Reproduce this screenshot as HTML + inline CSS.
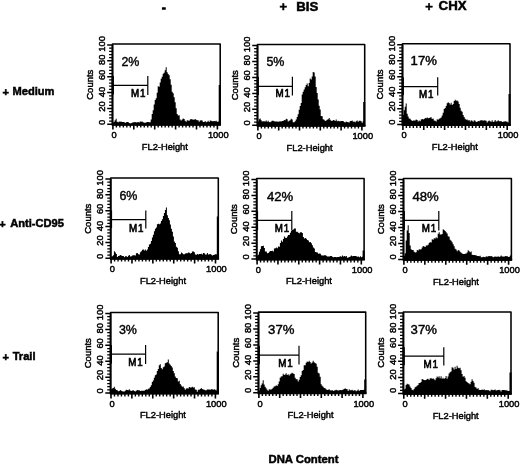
<!DOCTYPE html>
<html><head><meta charset="utf-8"><title>DNA Content</title>
<style>html,body{margin:0;padding:0;background:#fff}svg{display:block}</style>
</head><body>
<svg width="520" height="464" viewBox="0 0 520 464">
<rect width="520" height="464" fill="#fff"/>
<polygon fill="#000" points="112.50,124.70 112.70,122.59 113.70,122.59 113.70,121.71 114.70,121.71 114.70,120.18 115.70,120.18 115.70,118.79 116.70,118.79 116.70,121.83 117.70,121.83 117.70,122.27 118.70,122.27 118.70,121.59 119.70,121.59 119.70,121.85 120.70,121.85 120.70,121.60 121.70,121.60 121.70,121.92 122.70,121.92 122.70,121.95 123.70,121.95 123.70,122.08 124.70,122.08 124.70,123.12 125.70,123.12 125.70,122.13 126.70,122.13 126.70,121.97 127.70,121.97 127.70,121.91 128.70,121.91 128.70,123.08 129.70,123.08 129.70,123.51 130.70,123.51 130.70,123.20 131.70,123.20 131.70,122.87 132.70,122.87 132.70,122.33 133.70,122.33 133.70,122.34 134.70,122.34 134.70,122.03 135.70,122.03 135.70,122.55 136.70,122.55 136.70,122.22 137.70,122.22 137.70,122.06 138.70,122.06 138.70,122.57 139.70,122.57 139.70,121.47 140.70,121.47 140.70,121.71 141.70,121.71 141.70,121.45 142.70,121.45 142.70,122.34 143.70,122.34 143.70,122.71 144.70,122.71 144.70,122.63 145.70,122.63 145.70,122.47 146.70,122.47 146.70,122.02 147.70,122.02 147.70,122.07 148.70,122.07 148.70,122.21 149.70,122.21 149.70,122.29 150.70,122.29 150.70,119.50 151.70,119.50 151.70,114.11 152.70,114.11 152.70,110.19 153.70,110.19 153.70,104.50 154.70,104.50 154.70,100.04 155.70,100.04 155.70,98.36 156.70,98.36 156.70,92.83 157.70,92.83 157.70,86.24 158.70,86.24 158.70,86.85 159.70,86.85 159.70,82.47 160.70,82.47 160.70,78.75 161.70,78.75 161.70,76.85 162.70,76.85 162.70,73.67 163.70,73.67 163.70,72.64 164.70,72.64 164.70,70.26 165.70,70.26 165.70,67.28 166.70,67.28 166.70,72.18 167.70,72.18 167.70,73.89 168.70,73.89 168.70,75.29 169.70,75.29 169.70,79.33 170.70,79.33 170.70,84.85 171.70,84.85 171.70,91.83 172.70,91.83 172.70,93.21 173.70,93.21 173.70,97.30 174.70,97.30 174.70,102.29 175.70,102.29 175.70,108.25 176.70,108.25 176.70,113.95 177.70,113.95 177.70,115.39 178.70,115.39 178.70,115.13 179.70,115.13 179.70,119.47 180.70,119.47 180.70,120.48 181.70,120.48 181.70,119.55 182.70,119.55 182.70,118.53 183.70,118.53 183.70,118.93 184.70,118.93 184.70,120.79 185.70,120.79 185.70,121.85 186.70,121.85 186.70,120.25 187.70,120.25 187.70,120.45 188.70,120.45 188.70,120.79 189.70,120.79 189.70,119.48 190.70,119.48 190.70,118.95 191.70,118.95 191.70,119.42 192.70,119.42 192.70,119.53 193.70,119.53 193.70,119.63 194.70,119.63 194.70,119.10 195.70,119.10 195.70,119.74 196.70,119.74 196.70,120.21 197.70,120.21 197.70,120.37 198.70,120.37 198.70,121.75 199.70,121.75 199.70,120.48 200.70,120.48 200.70,120.26 201.70,120.26 201.70,120.47 202.70,120.47 202.70,122.12 203.70,122.12 203.70,121.89 204.70,121.89 204.70,120.92 205.70,120.92 205.70,122.23 206.70,122.23 206.70,121.72 207.70,121.72 207.70,120.83 208.70,120.83 208.70,121.95 209.70,121.95 209.70,120.60 210.70,120.60 210.70,120.78 211.70,120.78 211.70,121.28 212.70,121.28 212.70,121.19 213.70,121.19 213.70,120.99 214.70,120.99 214.70,121.25 215.70,121.25 215.70,120.75 216.70,120.75 216.70,121.66 217.70,121.66 217.70,121.85 218.70,121.85 218.70,121.08 219.70,121.08 219.70,121.41 220.20,121.41 220.20,124.70"/>
<rect x="218.70" y="85.00" width="2" height="39.70" fill="#000"/>
<rect x="112.5" y="44.0" width="107.70" height="80.70" fill="none" stroke="#000" stroke-width="1.55" stroke-linejoin="round"/>
<path d="M112.5 45.0V124.7" fill="none" stroke="#000" stroke-width="1.8"/>
<path d="M111.70 124.7H221.00" fill="none" stroke="#000" stroke-width="1.9"/>
<path d="M109.10 121.13H112.5M109.10 117.96H112.5M109.10 114.78H112.5M109.10 111.61H112.5M109.10 105.27H112.5M109.10 102.10H112.5M109.10 98.92H112.5M109.10 95.75H112.5M109.10 89.41H112.5M109.10 86.24H112.5M109.10 83.06H112.5M109.10 79.89H112.5M109.10 73.55H112.5M109.10 70.38H112.5M109.10 67.20H112.5M109.10 64.03H112.5M109.10 57.69H112.5M109.10 54.52H112.5M109.10 51.34H112.5M109.10 48.17H112.5" stroke="#000" stroke-width="1.25" fill="none"/>
<path d="M107.20 124.30H112.5M107.20 108.44H112.5M107.20 92.58H112.5M107.20 76.72H112.5M107.20 60.86H112.5M107.20 45.00H112.5" stroke="#000" stroke-width="1.5" fill="none"/>
<path d="M116.38 124.7V127.60M119.87 124.7V127.60M123.35 124.7V127.60M126.83 124.7V127.60M130.32 124.7V127.60M137.28 124.7V127.60M140.77 124.7V127.60M144.25 124.7V127.60M147.73 124.7V127.60M151.22 124.7V127.60M158.18 124.7V127.60M161.67 124.7V127.60M165.15 124.7V127.60M168.63 124.7V127.60M172.12 124.7V127.60M179.08 124.7V127.60M182.57 124.7V127.60M186.05 124.7V127.60M189.53 124.7V127.60M193.02 124.7V127.60M199.98 124.7V127.60M203.47 124.7V127.60M206.95 124.7V127.60M210.43 124.7V127.60M213.92 124.7V127.60" stroke="#000" stroke-width="1.4" fill="none"/>
<path d="M112.90 124.7V129.60M133.80 124.7V129.60M154.70 124.7V129.60M175.60 124.7V129.60M196.50 124.7V129.60M217.40 124.7V129.60" stroke="#000" stroke-width="1.6" fill="none"/>
<text transform="translate(105.20 122.40) rotate(-90)" text-anchor="middle" font-size="9.4" font-family="Liberation Sans, Arial, Helvetica, sans-serif" stroke="#000" stroke-width="0.45">0</text>
<text transform="translate(105.20 106.60) rotate(-90)" text-anchor="middle" font-size="9.4" font-family="Liberation Sans, Arial, Helvetica, sans-serif" stroke="#000" stroke-width="0.45">20</text>
<text transform="translate(105.20 92.00) rotate(-90)" text-anchor="middle" font-size="9.4" font-family="Liberation Sans, Arial, Helvetica, sans-serif" stroke="#000" stroke-width="0.45">40</text>
<text transform="translate(105.20 74.90) rotate(-90)" text-anchor="middle" font-size="9.4" font-family="Liberation Sans, Arial, Helvetica, sans-serif" stroke="#000" stroke-width="0.45">60</text>
<text transform="translate(105.20 59.80) rotate(-90)" text-anchor="middle" font-size="9.4" font-family="Liberation Sans, Arial, Helvetica, sans-serif" stroke="#000" stroke-width="0.45">80</text>
<text transform="translate(105.20 43.80) rotate(-90)" text-anchor="middle" font-size="9.4" font-family="Liberation Sans, Arial, Helvetica, sans-serif" stroke="#000" stroke-width="0.45">100</text>
<text transform="translate(92.80 84.70) rotate(-90)" text-anchor="middle" font-size="9.5" font-family="Liberation Sans, Arial, Helvetica, sans-serif" stroke="#000" stroke-width="0.45">Counts</text>
<text x="114.10" y="138.00" text-anchor="middle" font-size="9.3" font-family="Liberation Sans, Arial, Helvetica, sans-serif" stroke="#000" stroke-width="0.45">0</text>
<text x="218.30" y="138.00" text-anchor="middle" font-size="9.3" font-family="Liberation Sans, Arial, Helvetica, sans-serif" stroke="#000" stroke-width="0.45">1000</text>
<text x="164.85" y="149.50" text-anchor="middle" font-size="9.3" font-family="Liberation Sans, Arial, Helvetica, sans-serif" stroke="#000" stroke-width="0.45">FL2-Height</text>
<path d="M112.5 85.3H147.8M147.8 76V95.0" stroke="#000" stroke-width="1.2" fill="none"/>
<path d="M112.8 76V94.6" stroke="#000" stroke-width="2.2" fill="none"/>
<text transform="translate(131.10 96.90) scale(1 1.04)" font-size="9.8" letter-spacing="0.7" font-family="Liberation Sans, Arial, Helvetica, sans-serif" stroke="#000" stroke-width="0.6">M1</text>
<text x="121.40" y="65.5" font-size="12.2" textLength="18.0" lengthAdjust="spacingAndGlyphs" font-family="Liberation Sans, Arial, Helvetica, sans-serif" stroke="#000" stroke-width="0.4">2%</text>
<polygon fill="#000" points="257.50,125.70 257.70,121.58 258.70,121.58 258.70,119.25 259.70,119.25 259.70,118.61 260.70,118.61 260.70,120.32 261.70,120.32 261.70,121.59 262.70,121.59 262.70,121.30 263.70,121.30 263.70,121.31 264.70,121.31 264.70,121.51 265.70,121.51 265.70,120.57 266.70,120.57 266.70,121.72 267.70,121.72 267.70,120.78 268.70,120.78 268.70,121.99 269.70,121.99 269.70,122.15 270.70,122.15 270.70,121.39 271.70,121.39 271.70,120.86 272.70,120.86 272.70,120.87 273.70,120.87 273.70,121.20 274.70,121.20 274.70,121.46 275.70,121.46 275.70,121.57 276.70,121.57 276.70,121.40 277.70,121.40 277.70,121.72 278.70,121.72 278.70,121.51 279.70,121.51 279.70,121.22 280.70,121.22 280.70,121.41 281.70,121.41 281.70,120.98 282.70,120.98 282.70,120.90 283.70,120.90 283.70,119.96 284.70,119.96 284.70,120.16 285.70,120.16 285.70,118.70 286.70,118.70 286.70,119.37 287.70,119.37 287.70,121.41 288.70,121.41 288.70,120.78 289.70,120.78 289.70,120.17 290.70,120.17 290.70,118.86 291.70,118.86 291.70,119.54 292.70,119.54 292.70,122.34 293.70,122.34 293.70,122.17 294.70,122.17 294.70,121.17 295.70,121.17 295.70,119.57 296.70,119.57 296.70,117.00 297.70,117.00 297.70,114.19 298.70,114.19 298.70,109.85 299.70,109.85 299.70,105.95 300.70,105.95 300.70,102.95 301.70,102.95 301.70,94.57 302.70,94.57 302.70,91.63 303.70,91.63 303.70,89.56 304.70,89.56 304.70,87.22 305.70,87.22 305.70,85.09 306.70,85.09 306.70,83.43 307.70,83.43 307.70,86.25 308.70,86.25 308.70,82.92 309.70,82.92 309.70,78.50 310.70,78.50 310.70,79.61 311.70,79.61 311.70,76.49 312.70,76.49 312.70,71.90 313.70,71.90 313.70,72.59 314.70,72.59 314.70,76.54 315.70,76.54 315.70,86.95 316.70,86.95 316.70,92.94 317.70,92.94 317.70,99.62 318.70,99.62 318.70,105.69 319.70,105.69 319.70,109.38 320.70,109.38 320.70,115.94 321.70,115.94 321.70,116.24 322.70,116.24 322.70,119.19 323.70,119.19 323.70,119.68 324.70,119.68 324.70,121.02 325.70,121.02 325.70,120.53 326.70,120.53 326.70,119.87 327.70,119.87 327.70,119.15 328.70,119.15 328.70,117.97 329.70,117.97 329.70,119.67 330.70,119.67 330.70,120.65 331.70,120.65 331.70,120.95 332.70,120.95 332.70,120.09 333.70,120.09 333.70,120.13 334.70,120.13 334.70,121.01 335.70,121.01 335.70,119.49 336.70,119.49 336.70,121.37 337.70,121.37 337.70,120.78 338.70,120.78 338.70,121.30 339.70,121.30 339.70,121.24 340.70,121.24 340.70,120.88 341.70,120.88 341.70,121.06 342.70,121.06 342.70,120.88 343.70,120.88 343.70,122.12 344.70,122.12 344.70,122.56 345.70,122.56 345.70,121.44 346.70,121.44 346.70,122.00 347.70,122.00 347.70,122.24 348.70,122.24 348.70,122.60 349.70,122.60 349.70,121.09 350.70,121.09 350.70,120.88 351.70,120.88 351.70,120.39 352.70,120.39 352.70,121.66 353.70,121.66 353.70,121.55 354.70,121.55 354.70,122.20 355.70,122.20 355.70,121.30 356.70,121.30 356.70,120.50 357.70,120.50 357.70,121.70 358.70,121.70 358.70,120.68 359.70,120.68 359.70,120.67 360.70,120.67 360.70,121.36 361.70,121.36 361.70,122.67 362.70,122.67 362.70,121.14 363.70,121.14 363.70,121.50 364.70,121.50 364.70,125.70"/>
<rect x="363.20" y="102.00" width="2" height="23.70" fill="#000"/>
<rect x="257.5" y="44.5" width="107.20" height="81.20" fill="none" stroke="#000" stroke-width="1.55" stroke-linejoin="round"/>
<path d="M257.5 45.5V125.7" fill="none" stroke="#000" stroke-width="1.8"/>
<path d="M256.70 125.7H365.50" fill="none" stroke="#000" stroke-width="1.9"/>
<path d="M254.10 122.11H257.5M254.10 118.92H257.5M254.10 115.72H257.5M254.10 112.53H257.5M254.10 106.15H257.5M254.10 102.96H257.5M254.10 99.76H257.5M254.10 96.57H257.5M254.10 90.19H257.5M254.10 87.00H257.5M254.10 83.80H257.5M254.10 80.61H257.5M254.10 74.23H257.5M254.10 71.04H257.5M254.10 67.84H257.5M254.10 64.65H257.5M254.10 58.27H257.5M254.10 55.08H257.5M254.10 51.88H257.5M254.10 48.69H257.5" stroke="#000" stroke-width="1.25" fill="none"/>
<path d="M252.20 125.30H257.5M252.20 109.34H257.5M252.20 93.38H257.5M252.20 77.42H257.5M252.20 61.46H257.5M252.20 45.50H257.5" stroke="#000" stroke-width="1.5" fill="none"/>
<path d="M261.37 125.7V128.60M264.83 125.7V128.60M268.30 125.7V128.60M271.77 125.7V128.60M275.23 125.7V128.60M282.17 125.7V128.60M285.63 125.7V128.60M289.10 125.7V128.60M292.57 125.7V128.60M296.03 125.7V128.60M302.97 125.7V128.60M306.43 125.7V128.60M309.90 125.7V128.60M313.37 125.7V128.60M316.83 125.7V128.60M323.77 125.7V128.60M327.23 125.7V128.60M330.70 125.7V128.60M334.17 125.7V128.60M337.63 125.7V128.60M344.57 125.7V128.60M348.03 125.7V128.60M351.50 125.7V128.60M354.97 125.7V128.60M358.43 125.7V128.60" stroke="#000" stroke-width="1.4" fill="none"/>
<path d="M257.90 125.7V130.60M278.70 125.7V130.60M299.50 125.7V130.60M320.30 125.7V130.60M341.10 125.7V130.60M361.90 125.7V130.60" stroke="#000" stroke-width="1.6" fill="none"/>
<text transform="translate(250.20 122.90) rotate(-90)" text-anchor="middle" font-size="9.4" font-family="Liberation Sans, Arial, Helvetica, sans-serif" stroke="#000" stroke-width="0.45">0</text>
<text transform="translate(250.20 107.10) rotate(-90)" text-anchor="middle" font-size="9.4" font-family="Liberation Sans, Arial, Helvetica, sans-serif" stroke="#000" stroke-width="0.45">20</text>
<text transform="translate(250.20 92.50) rotate(-90)" text-anchor="middle" font-size="9.4" font-family="Liberation Sans, Arial, Helvetica, sans-serif" stroke="#000" stroke-width="0.45">40</text>
<text transform="translate(250.20 75.40) rotate(-90)" text-anchor="middle" font-size="9.4" font-family="Liberation Sans, Arial, Helvetica, sans-serif" stroke="#000" stroke-width="0.45">60</text>
<text transform="translate(250.20 60.30) rotate(-90)" text-anchor="middle" font-size="9.4" font-family="Liberation Sans, Arial, Helvetica, sans-serif" stroke="#000" stroke-width="0.45">80</text>
<text transform="translate(250.20 44.30) rotate(-90)" text-anchor="middle" font-size="9.4" font-family="Liberation Sans, Arial, Helvetica, sans-serif" stroke="#000" stroke-width="0.45">100</text>
<text transform="translate(237.80 85.20) rotate(-90)" text-anchor="middle" font-size="9.5" font-family="Liberation Sans, Arial, Helvetica, sans-serif" stroke="#000" stroke-width="0.45">Counts</text>
<text x="259.10" y="139.00" text-anchor="middle" font-size="9.3" font-family="Liberation Sans, Arial, Helvetica, sans-serif" stroke="#000" stroke-width="0.45">0</text>
<text x="362.80" y="139.00" text-anchor="middle" font-size="9.3" font-family="Liberation Sans, Arial, Helvetica, sans-serif" stroke="#000" stroke-width="0.45">1000</text>
<text x="309.60" y="150.50" text-anchor="middle" font-size="9.3" font-family="Liberation Sans, Arial, Helvetica, sans-serif" stroke="#000" stroke-width="0.45">FL2-Height</text>
<path d="M257.5 86.3H292.4M292.4 76.8V95.5" stroke="#000" stroke-width="1.2" fill="none"/>
<path d="M257.8 76.8V95.1" stroke="#000" stroke-width="2.2" fill="none"/>
<text transform="translate(275.60 97.30) scale(1 1.04)" font-size="9.8" letter-spacing="0.7" font-family="Liberation Sans, Arial, Helvetica, sans-serif" stroke="#000" stroke-width="0.6">M1</text>
<text x="266.40" y="66.2" font-size="12.2" textLength="18.0" lengthAdjust="spacingAndGlyphs" font-family="Liberation Sans, Arial, Helvetica, sans-serif" stroke="#000" stroke-width="0.4">5%</text>
<polygon fill="#000" points="402.50,125.00 402.70,114.98 403.70,114.98 403.70,110.36 404.70,110.36 404.70,106.78 405.70,106.78 405.70,103.43 406.70,103.43 406.70,113.68 407.70,113.68 407.70,116.46 408.70,116.46 408.70,118.54 409.70,118.54 409.70,118.71 410.70,118.71 410.70,120.05 411.70,120.05 411.70,121.08 412.70,121.08 412.70,120.52 413.70,120.52 413.70,120.58 414.70,120.58 414.70,120.47 415.70,120.47 415.70,119.44 416.70,119.44 416.70,120.06 417.70,120.06 417.70,121.53 418.70,121.53 418.70,120.62 419.70,120.62 419.70,121.20 420.70,121.20 420.70,119.41 421.70,119.41 421.70,119.00 422.70,119.00 422.70,119.39 423.70,119.39 423.70,118.97 424.70,118.97 424.70,118.07 425.70,118.07 425.70,118.18 426.70,118.18 426.70,117.42 427.70,117.42 427.70,118.30 428.70,118.30 428.70,117.88 429.70,117.88 429.70,117.49 430.70,117.49 430.70,117.37 431.70,117.37 431.70,119.05 432.70,119.05 432.70,118.62 433.70,118.62 433.70,120.50 434.70,120.50 434.70,120.67 435.70,120.67 435.70,121.42 436.70,121.42 436.70,119.31 437.70,119.31 437.70,119.84 438.70,119.84 438.70,118.85 439.70,118.85 439.70,118.35 440.70,118.35 440.70,117.45 441.70,117.45 441.70,115.57 442.70,115.57 442.70,112.67 443.70,112.67 443.70,108.90 444.70,108.90 444.70,108.02 445.70,108.02 445.70,105.88 446.70,105.88 446.70,103.26 447.70,103.26 447.70,102.18 448.70,102.18 448.70,103.12 449.70,103.12 449.70,104.55 450.70,104.55 450.70,102.82 451.70,102.82 451.70,105.00 452.70,105.00 452.70,103.99 453.70,103.99 453.70,100.93 454.70,100.93 454.70,99.83 455.70,99.83 455.70,100.87 456.70,100.87 456.70,100.42 457.70,100.42 457.70,101.42 458.70,101.42 458.70,104.00 459.70,104.00 459.70,107.70 460.70,107.70 460.70,110.80 461.70,110.80 461.70,111.66 462.70,111.66 462.70,114.89 463.70,114.89 463.70,117.05 464.70,117.05 464.70,118.70 465.70,118.70 465.70,119.76 466.70,119.76 466.70,119.44 467.70,119.44 467.70,120.43 468.70,120.43 468.70,119.88 469.70,119.88 469.70,121.53 470.70,121.53 470.70,120.34 471.70,120.34 471.70,120.65 472.70,120.65 472.70,121.70 473.70,121.70 473.70,120.37 474.70,120.37 474.70,120.63 475.70,120.63 475.70,122.06 476.70,122.06 476.70,121.75 477.70,121.75 477.70,120.92 478.70,120.92 478.70,121.15 479.70,121.15 479.70,120.48 480.70,120.48 480.70,120.32 481.70,120.32 481.70,120.36 482.70,120.36 482.70,120.63 483.70,120.63 483.70,120.14 484.70,120.14 484.70,120.44 485.70,120.44 485.70,120.71 486.70,120.71 486.70,122.38 487.70,122.38 487.70,121.16 488.70,121.16 488.70,120.50 489.70,120.50 489.70,121.25 490.70,121.25 490.70,121.64 491.70,121.64 491.70,120.34 492.70,120.34 492.70,122.11 493.70,122.11 493.70,121.42 494.70,121.42 494.70,120.03 495.70,120.03 495.70,121.55 496.70,121.55 496.70,121.14 497.70,121.14 497.70,120.30 498.70,120.30 498.70,121.21 499.70,121.21 499.70,121.14 500.70,121.14 500.70,120.93 501.70,120.93 501.70,121.93 502.70,121.93 502.70,121.82 503.70,121.82 503.70,121.57 504.70,121.57 504.70,121.19 505.70,121.19 505.70,121.57 506.70,121.57 506.70,121.82 507.70,121.82 507.70,122.39 508.70,122.39 508.70,122.22 509.70,122.22 509.70,121.43 510.00,121.43 510.00,125.00"/>
<rect x="508.50" y="94.00" width="2" height="31.00" fill="#000"/>
<rect x="402.5" y="43.8" width="107.50" height="81.20" fill="none" stroke="#000" stroke-width="1.55" stroke-linejoin="round"/>
<path d="M402.5 44.8V125.0" fill="none" stroke="#000" stroke-width="1.8"/>
<path d="M401.70 125.0H510.80" fill="none" stroke="#000" stroke-width="1.9"/>
<path d="M399.10 121.41H402.5M399.10 118.22H402.5M399.10 115.02H402.5M399.10 111.83H402.5M399.10 105.45H402.5M399.10 102.26H402.5M399.10 99.06H402.5M399.10 95.87H402.5M399.10 89.49H402.5M399.10 86.30H402.5M399.10 83.10H402.5M399.10 79.91H402.5M399.10 73.53H402.5M399.10 70.34H402.5M399.10 67.14H402.5M399.10 63.95H402.5M399.10 57.57H402.5M399.10 54.38H402.5M399.10 51.18H402.5M399.10 47.99H402.5" stroke="#000" stroke-width="1.25" fill="none"/>
<path d="M397.20 124.60H402.5M397.20 108.64H402.5M397.20 92.68H402.5M397.20 76.72H402.5M397.20 60.76H402.5M397.20 44.80H402.5" stroke="#000" stroke-width="1.5" fill="none"/>
<path d="M406.38 125.0V127.90M409.85 125.0V127.90M413.33 125.0V127.90M416.81 125.0V127.90M420.28 125.0V127.90M427.24 125.0V127.90M430.71 125.0V127.90M434.19 125.0V127.90M437.67 125.0V127.90M441.14 125.0V127.90M448.10 125.0V127.90M451.57 125.0V127.90M455.05 125.0V127.90M458.53 125.0V127.90M462.00 125.0V127.90M468.96 125.0V127.90M472.43 125.0V127.90M475.91 125.0V127.90M479.39 125.0V127.90M482.86 125.0V127.90M489.82 125.0V127.90M493.29 125.0V127.90M496.77 125.0V127.90M500.25 125.0V127.90M503.72 125.0V127.90" stroke="#000" stroke-width="1.4" fill="none"/>
<path d="M402.90 125.0V129.90M423.76 125.0V129.90M444.62 125.0V129.90M465.48 125.0V129.90M486.34 125.0V129.90M507.20 125.0V129.90" stroke="#000" stroke-width="1.6" fill="none"/>
<text transform="translate(395.20 122.20) rotate(-90)" text-anchor="middle" font-size="9.4" font-family="Liberation Sans, Arial, Helvetica, sans-serif" stroke="#000" stroke-width="0.45">0</text>
<text transform="translate(395.20 106.40) rotate(-90)" text-anchor="middle" font-size="9.4" font-family="Liberation Sans, Arial, Helvetica, sans-serif" stroke="#000" stroke-width="0.45">20</text>
<text transform="translate(395.20 91.80) rotate(-90)" text-anchor="middle" font-size="9.4" font-family="Liberation Sans, Arial, Helvetica, sans-serif" stroke="#000" stroke-width="0.45">40</text>
<text transform="translate(395.20 74.70) rotate(-90)" text-anchor="middle" font-size="9.4" font-family="Liberation Sans, Arial, Helvetica, sans-serif" stroke="#000" stroke-width="0.45">60</text>
<text transform="translate(395.20 59.60) rotate(-90)" text-anchor="middle" font-size="9.4" font-family="Liberation Sans, Arial, Helvetica, sans-serif" stroke="#000" stroke-width="0.45">80</text>
<text transform="translate(395.20 43.60) rotate(-90)" text-anchor="middle" font-size="9.4" font-family="Liberation Sans, Arial, Helvetica, sans-serif" stroke="#000" stroke-width="0.45">100</text>
<text transform="translate(382.80 84.50) rotate(-90)" text-anchor="middle" font-size="9.5" font-family="Liberation Sans, Arial, Helvetica, sans-serif" stroke="#000" stroke-width="0.45">Counts</text>
<text x="404.10" y="138.30" text-anchor="middle" font-size="9.3" font-family="Liberation Sans, Arial, Helvetica, sans-serif" stroke="#000" stroke-width="0.45">0</text>
<text x="508.10" y="138.30" text-anchor="middle" font-size="9.3" font-family="Liberation Sans, Arial, Helvetica, sans-serif" stroke="#000" stroke-width="0.45">1000</text>
<text x="454.75" y="149.80" text-anchor="middle" font-size="9.3" font-family="Liberation Sans, Arial, Helvetica, sans-serif" stroke="#000" stroke-width="0.45">FL2-Height</text>
<path d="M402.5 86.6H437.7M437.7 77.3V95.60000000000001" stroke="#000" stroke-width="1.2" fill="none"/>
<path d="M402.8 77.3V95.2" stroke="#000" stroke-width="2.2" fill="none"/>
<text transform="translate(419.10 97.90) scale(1 1.04)" font-size="9.8" letter-spacing="0.7" font-family="Liberation Sans, Arial, Helvetica, sans-serif" stroke="#000" stroke-width="0.6">M1</text>
<text x="410.60" y="65.0" font-size="12.2" textLength="26.3" lengthAdjust="spacingAndGlyphs" font-family="Liberation Sans, Arial, Helvetica, sans-serif" stroke="#000" stroke-width="0.4">17%</text>
<polygon fill="#000" points="110.70,258.70 110.90,256.44 111.90,256.44 111.90,256.23 112.90,256.23 112.90,255.24 113.90,255.24 113.90,251.16 114.90,251.16 114.90,252.49 115.90,252.49 115.90,253.99 116.90,253.99 116.90,257.06 117.90,257.06 117.90,255.95 118.90,255.95 118.90,255.70 119.90,255.70 119.90,254.95 120.90,254.95 120.90,255.49 121.90,255.49 121.90,256.01 122.90,256.01 122.90,255.91 123.90,255.91 123.90,257.33 124.90,257.33 124.90,256.19 125.90,256.19 125.90,256.24 126.90,256.24 126.90,256.88 127.90,256.88 127.90,255.79 128.90,255.79 128.90,254.96 129.90,254.96 129.90,256.41 130.90,256.41 130.90,256.36 131.90,256.36 131.90,255.56 132.90,255.56 132.90,255.17 133.90,255.17 133.90,255.23 134.90,255.23 134.90,255.43 135.90,255.43 135.90,253.17 136.90,253.17 136.90,252.88 137.90,252.88 137.90,254.13 138.90,254.13 138.90,254.48 139.90,254.48 139.90,252.13 140.90,252.13 140.90,251.22 141.90,251.22 141.90,249.72 142.90,249.72 142.90,249.51 143.90,249.51 143.90,250.46 144.90,250.46 144.90,249.43 145.90,249.43 145.90,250.83 146.90,250.83 146.90,249.57 147.90,249.57 147.90,247.06 148.90,247.06 148.90,244.49 149.90,244.49 149.90,243.70 150.90,243.70 150.90,240.90 151.90,240.90 151.90,237.60 152.90,237.60 152.90,234.79 153.90,234.79 153.90,231.36 154.90,231.36 154.90,228.76 155.90,228.76 155.90,227.62 156.90,227.62 156.90,224.36 157.90,224.36 157.90,223.76 158.90,223.76 158.90,224.25 159.90,224.25 159.90,223.49 160.90,223.49 160.90,221.04 161.90,221.04 161.90,219.23 162.90,219.23 162.90,216.01 163.90,216.01 163.90,212.88 164.90,212.88 164.90,209.88 165.90,209.88 165.90,207.62 166.90,207.62 166.90,215.28 167.90,215.28 167.90,217.98 168.90,217.98 168.90,220.37 169.90,220.37 169.90,224.48 170.90,224.48 170.90,228.80 171.90,228.80 171.90,231.64 172.90,231.64 172.90,236.55 173.90,236.55 173.90,241.43 174.90,241.43 174.90,243.04 175.90,243.04 175.90,246.75 176.90,246.75 176.90,247.83 177.90,247.83 177.90,251.28 178.90,251.28 178.90,254.21 179.90,254.21 179.90,254.21 180.90,254.21 180.90,252.59 181.90,252.59 181.90,253.32 182.90,253.32 182.90,254.35 183.90,254.35 183.90,254.30 184.90,254.30 184.90,253.39 185.90,253.39 185.90,253.14 186.90,253.14 186.90,253.32 187.90,253.32 187.90,252.49 188.90,252.49 188.90,252.81 189.90,252.81 189.90,253.48 190.90,253.48 190.90,253.02 191.90,253.02 191.90,251.47 192.90,251.47 192.90,251.53 193.90,251.53 193.90,252.25 194.90,252.25 194.90,254.43 195.90,254.43 195.90,254.71 196.90,254.71 196.90,254.11 197.90,254.11 197.90,254.61 198.90,254.61 198.90,253.88 199.90,253.88 199.90,253.97 200.90,253.97 200.90,253.81 201.90,253.81 201.90,254.52 202.90,254.52 202.90,252.95 203.90,252.95 203.90,253.29 204.90,253.29 204.90,254.40 205.90,254.40 205.90,254.61 206.90,254.61 206.90,253.04 207.90,253.04 207.90,254.46 208.90,254.46 208.90,254.17 209.90,254.17 209.90,254.02 210.90,254.02 210.90,254.63 211.90,254.63 211.90,255.62 212.90,255.62 212.90,255.11 213.90,255.11 213.90,254.84 214.90,254.84 214.90,254.26 215.90,254.26 215.90,254.31 216.90,254.31 216.90,254.83 217.90,254.83 217.90,254.49 218.30,254.49 218.30,258.70"/>
<rect x="216.80" y="216.50" width="2" height="42.20" fill="#000"/>
<rect x="110.7" y="178.0" width="107.60" height="80.70" fill="none" stroke="#000" stroke-width="1.55" stroke-linejoin="round"/>
<path d="M110.7 179.0V258.7" fill="none" stroke="#000" stroke-width="1.8"/>
<path d="M109.90 258.7H219.10" fill="none" stroke="#000" stroke-width="1.9"/>
<path d="M107.30 255.13H110.7M107.30 251.96H110.7M107.30 248.78H110.7M107.30 245.61H110.7M107.30 239.27H110.7M107.30 236.10H110.7M107.30 232.92H110.7M107.30 229.75H110.7M107.30 223.41H110.7M107.30 220.24H110.7M107.30 217.06H110.7M107.30 213.89H110.7M107.30 207.55H110.7M107.30 204.38H110.7M107.30 201.20H110.7M107.30 198.03H110.7M107.30 191.69H110.7M107.30 188.52H110.7M107.30 185.34H110.7M107.30 182.17H110.7" stroke="#000" stroke-width="1.25" fill="none"/>
<path d="M105.40 258.30H110.7M105.40 242.44H110.7M105.40 226.58H110.7M105.40 210.72H110.7M105.40 194.86H110.7M105.40 179.00H110.7" stroke="#000" stroke-width="1.5" fill="none"/>
<path d="M114.58 258.7V261.60M118.06 258.7V261.60M121.54 258.7V261.60M125.02 258.7V261.60M128.50 258.7V261.60M135.46 258.7V261.60M138.94 258.7V261.60M142.42 258.7V261.60M145.90 258.7V261.60M149.38 258.7V261.60M156.34 258.7V261.60M159.82 258.7V261.60M163.30 258.7V261.60M166.78 258.7V261.60M170.26 258.7V261.60M177.22 258.7V261.60M180.70 258.7V261.60M184.18 258.7V261.60M187.66 258.7V261.60M191.14 258.7V261.60M198.10 258.7V261.60M201.58 258.7V261.60M205.06 258.7V261.60M208.54 258.7V261.60M212.02 258.7V261.60" stroke="#000" stroke-width="1.4" fill="none"/>
<path d="M111.10 258.7V263.60M131.98 258.7V263.60M152.86 258.7V263.60M173.74 258.7V263.60M194.62 258.7V263.60M215.50 258.7V263.60" stroke="#000" stroke-width="1.6" fill="none"/>
<text transform="translate(103.40 256.40) rotate(-90)" text-anchor="middle" font-size="9.4" font-family="Liberation Sans, Arial, Helvetica, sans-serif" stroke="#000" stroke-width="0.45">0</text>
<text transform="translate(103.40 240.60) rotate(-90)" text-anchor="middle" font-size="9.4" font-family="Liberation Sans, Arial, Helvetica, sans-serif" stroke="#000" stroke-width="0.45">20</text>
<text transform="translate(103.40 226.00) rotate(-90)" text-anchor="middle" font-size="9.4" font-family="Liberation Sans, Arial, Helvetica, sans-serif" stroke="#000" stroke-width="0.45">40</text>
<text transform="translate(103.40 208.90) rotate(-90)" text-anchor="middle" font-size="9.4" font-family="Liberation Sans, Arial, Helvetica, sans-serif" stroke="#000" stroke-width="0.45">60</text>
<text transform="translate(103.40 193.80) rotate(-90)" text-anchor="middle" font-size="9.4" font-family="Liberation Sans, Arial, Helvetica, sans-serif" stroke="#000" stroke-width="0.45">80</text>
<text transform="translate(103.40 177.80) rotate(-90)" text-anchor="middle" font-size="9.4" font-family="Liberation Sans, Arial, Helvetica, sans-serif" stroke="#000" stroke-width="0.45">100</text>
<text transform="translate(91.00 218.70) rotate(-90)" text-anchor="middle" font-size="9.5" font-family="Liberation Sans, Arial, Helvetica, sans-serif" stroke="#000" stroke-width="0.45">Counts</text>
<text x="112.30" y="272.00" text-anchor="middle" font-size="9.3" font-family="Liberation Sans, Arial, Helvetica, sans-serif" stroke="#000" stroke-width="0.45">0</text>
<text x="216.40" y="272.00" text-anchor="middle" font-size="9.3" font-family="Liberation Sans, Arial, Helvetica, sans-serif" stroke="#000" stroke-width="0.45">1000</text>
<text x="163.00" y="283.50" text-anchor="middle" font-size="9.3" font-family="Liberation Sans, Arial, Helvetica, sans-serif" stroke="#000" stroke-width="0.45">FL2-Height</text>
<path d="M110.7 219.6H145.8M145.8 210.4V228.4" stroke="#000" stroke-width="1.2" fill="none"/>
<path d="M111.0 210.4V228" stroke="#000" stroke-width="2.2" fill="none"/>
<text transform="translate(129.10 231.50) scale(1 1.04)" font-size="9.8" letter-spacing="0.7" font-family="Liberation Sans, Arial, Helvetica, sans-serif" stroke="#000" stroke-width="0.6">M1</text>
<text x="119.40" y="200.0" font-size="12.2" textLength="18.0" lengthAdjust="spacingAndGlyphs" font-family="Liberation Sans, Arial, Helvetica, sans-serif" stroke="#000" stroke-width="0.4">6%</text>
<polygon fill="#000" points="256.70,259.50 256.90,255.72 257.90,255.72 257.90,254.84 258.90,254.84 258.90,251.63 259.90,251.63 259.90,249.22 260.90,249.22 260.90,246.26 261.90,246.26 261.90,246.03 262.90,246.03 262.90,245.78 263.90,245.78 263.90,247.97 264.90,247.97 264.90,251.39 265.90,251.39 265.90,251.46 266.90,251.46 266.90,253.14 267.90,253.14 267.90,253.02 268.90,253.02 268.90,251.87 269.90,251.87 269.90,251.03 270.90,251.03 270.90,250.97 271.90,250.97 271.90,250.83 272.90,250.83 272.90,251.46 273.90,251.46 273.90,248.55 274.90,248.55 274.90,248.34 275.90,248.34 275.90,247.42 276.90,247.42 276.90,248.16 277.90,248.16 277.90,246.59 278.90,246.59 278.90,246.71 279.90,246.71 279.90,243.04 280.90,243.04 280.90,240.47 281.90,240.47 281.90,241.72 282.90,241.72 282.90,239.11 283.90,239.11 283.90,236.39 284.90,236.39 284.90,237.67 285.90,237.67 285.90,237.89 286.90,237.89 286.90,236.55 287.90,236.55 287.90,235.04 288.90,235.04 288.90,235.00 289.90,235.00 289.90,232.63 290.90,232.63 290.90,231.00 291.90,231.00 291.90,230.02 292.90,230.02 292.90,229.61 293.90,229.61 293.90,228.39 294.90,228.39 294.90,228.39 295.90,228.39 295.90,231.64 296.90,231.64 296.90,231.69 297.90,231.69 297.90,232.67 298.90,232.67 298.90,233.20 299.90,233.20 299.90,232.24 300.90,232.24 300.90,232.34 301.90,232.34 301.90,233.08 302.90,233.08 302.90,236.92 303.90,236.92 303.90,238.38 304.90,238.38 304.90,238.08 305.90,238.08 305.90,238.87 306.90,238.87 306.90,239.90 307.90,239.90 307.90,240.56 308.90,240.56 308.90,242.17 309.90,242.17 309.90,241.93 310.90,241.93 310.90,243.37 311.90,243.37 311.90,245.32 312.90,245.32 312.90,247.55 313.90,247.55 313.90,248.62 314.90,248.62 314.90,251.97 315.90,251.97 315.90,252.37 316.90,252.37 316.90,252.44 317.90,252.44 317.90,253.79 318.90,253.79 318.90,253.39 319.90,253.39 319.90,253.72 320.90,253.72 320.90,255.30 321.90,255.30 321.90,255.42 322.90,255.42 322.90,255.55 323.90,255.55 323.90,255.27 324.90,255.27 324.90,255.25 325.90,255.25 325.90,255.77 326.90,255.77 326.90,256.55 327.90,256.55 327.90,256.52 328.90,256.52 328.90,256.45 329.90,256.45 329.90,255.98 330.90,255.98 330.90,256.08 331.90,256.08 331.90,256.71 332.90,256.71 332.90,257.31 333.90,257.31 333.90,256.98 334.90,256.98 334.90,257.09 335.90,257.09 335.90,257.35 336.90,257.35 336.90,256.90 337.90,256.90 337.90,256.97 338.90,256.97 338.90,256.68 339.90,256.68 339.90,256.37 340.90,256.37 340.90,256.79 341.90,256.79 341.90,255.46 342.90,255.46 342.90,256.46 343.90,256.46 343.90,256.05 344.90,256.05 344.90,256.46 345.90,256.46 345.90,256.09 346.90,256.09 346.90,257.83 347.90,257.83 347.90,257.57 348.90,257.57 348.90,256.94 349.90,256.94 349.90,256.52 350.90,256.52 350.90,255.44 351.90,255.44 351.90,256.15 352.90,256.15 352.90,255.88 353.90,255.88 353.90,256.07 354.90,256.07 354.90,256.03 355.90,256.03 355.90,256.26 356.90,256.26 356.90,256.69 357.90,256.69 357.90,256.49 358.90,256.49 358.90,257.27 359.90,257.27 359.90,256.33 360.90,256.33 360.90,257.18 361.90,257.18 361.90,256.80 362.90,256.80 362.90,255.66 363.90,255.66 363.90,256.52 364.10,256.52 364.10,259.50"/>
<rect x="362.60" y="250.50" width="2" height="9.00" fill="#000"/>
<rect x="256.7" y="178.5" width="107.40" height="81.00" fill="none" stroke="#000" stroke-width="1.55" stroke-linejoin="round"/>
<path d="M256.7 179.5V259.5" fill="none" stroke="#000" stroke-width="1.8"/>
<path d="M255.90 259.5H364.90" fill="none" stroke="#000" stroke-width="1.9"/>
<path d="M253.30 255.92H256.7M253.30 252.73H256.7M253.30 249.55H256.7M253.30 246.36H256.7M253.30 240.00H256.7M253.30 236.81H256.7M253.30 233.63H256.7M253.30 230.44H256.7M253.30 224.08H256.7M253.30 220.89H256.7M253.30 217.71H256.7M253.30 214.52H256.7M253.30 208.16H256.7M253.30 204.97H256.7M253.30 201.79H256.7M253.30 198.60H256.7M253.30 192.24H256.7M253.30 189.05H256.7M253.30 185.87H256.7M253.30 182.68H256.7" stroke="#000" stroke-width="1.25" fill="none"/>
<path d="M251.40 259.10H256.7M251.40 243.18H256.7M251.40 227.26H256.7M251.40 211.34H256.7M251.40 195.42H256.7M251.40 179.50H256.7" stroke="#000" stroke-width="1.5" fill="none"/>
<path d="M260.57 259.5V262.40M264.05 259.5V262.40M267.52 259.5V262.40M270.99 259.5V262.40M274.47 259.5V262.40M281.41 259.5V262.40M284.89 259.5V262.40M288.36 259.5V262.40M291.83 259.5V262.40M295.31 259.5V262.40M302.25 259.5V262.40M305.73 259.5V262.40M309.20 259.5V262.40M312.67 259.5V262.40M316.15 259.5V262.40M323.09 259.5V262.40M326.57 259.5V262.40M330.04 259.5V262.40M333.51 259.5V262.40M336.99 259.5V262.40M343.93 259.5V262.40M347.41 259.5V262.40M350.88 259.5V262.40M354.35 259.5V262.40M357.83 259.5V262.40" stroke="#000" stroke-width="1.4" fill="none"/>
<path d="M257.10 259.5V264.40M277.94 259.5V264.40M298.78 259.5V264.40M319.62 259.5V264.40M340.46 259.5V264.40M361.30 259.5V264.40" stroke="#000" stroke-width="1.6" fill="none"/>
<text transform="translate(249.40 256.90) rotate(-90)" text-anchor="middle" font-size="9.4" font-family="Liberation Sans, Arial, Helvetica, sans-serif" stroke="#000" stroke-width="0.45">0</text>
<text transform="translate(249.40 241.10) rotate(-90)" text-anchor="middle" font-size="9.4" font-family="Liberation Sans, Arial, Helvetica, sans-serif" stroke="#000" stroke-width="0.45">20</text>
<text transform="translate(249.40 226.50) rotate(-90)" text-anchor="middle" font-size="9.4" font-family="Liberation Sans, Arial, Helvetica, sans-serif" stroke="#000" stroke-width="0.45">40</text>
<text transform="translate(249.40 209.40) rotate(-90)" text-anchor="middle" font-size="9.4" font-family="Liberation Sans, Arial, Helvetica, sans-serif" stroke="#000" stroke-width="0.45">60</text>
<text transform="translate(249.40 194.30) rotate(-90)" text-anchor="middle" font-size="9.4" font-family="Liberation Sans, Arial, Helvetica, sans-serif" stroke="#000" stroke-width="0.45">80</text>
<text transform="translate(249.40 178.30) rotate(-90)" text-anchor="middle" font-size="9.4" font-family="Liberation Sans, Arial, Helvetica, sans-serif" stroke="#000" stroke-width="0.45">100</text>
<text transform="translate(237.00 219.20) rotate(-90)" text-anchor="middle" font-size="9.5" font-family="Liberation Sans, Arial, Helvetica, sans-serif" stroke="#000" stroke-width="0.45">Counts</text>
<text x="258.30" y="272.80" text-anchor="middle" font-size="9.3" font-family="Liberation Sans, Arial, Helvetica, sans-serif" stroke="#000" stroke-width="0.45">0</text>
<text x="362.20" y="272.80" text-anchor="middle" font-size="9.3" font-family="Liberation Sans, Arial, Helvetica, sans-serif" stroke="#000" stroke-width="0.45">1000</text>
<text x="308.90" y="284.30" text-anchor="middle" font-size="9.3" font-family="Liberation Sans, Arial, Helvetica, sans-serif" stroke="#000" stroke-width="0.45">FL2-Height</text>
<path d="M256.7 220.4H291.8M291.8 211.1V230.4" stroke="#000" stroke-width="1.2" fill="none"/>
<path d="M257.0 211.1V230" stroke="#000" stroke-width="2.2" fill="none"/>
<text transform="translate(274.80 232.20) scale(1 1.04)" font-size="9.8" letter-spacing="0.7" font-family="Liberation Sans, Arial, Helvetica, sans-serif" stroke="#000" stroke-width="0.6">M1</text>
<text x="266.90" y="200.5" font-size="12.2" textLength="26.3" lengthAdjust="spacingAndGlyphs" font-family="Liberation Sans, Arial, Helvetica, sans-serif" stroke="#000" stroke-width="0.4">42%</text>
<polygon fill="#000" points="403.50,259.90 403.70,255.70 404.70,255.70 404.70,253.22 405.70,253.22 405.70,240.59 406.70,240.59 406.70,230.58 407.70,230.58 407.70,225.13 408.70,225.13 408.70,233.05 409.70,233.05 409.70,245.61 410.70,245.61 410.70,249.28 411.70,249.28 411.70,249.98 412.70,249.98 412.70,250.09 413.70,250.09 413.70,251.71 414.70,251.71 414.70,252.42 415.70,252.42 415.70,252.17 416.70,252.17 416.70,250.11 417.70,250.11 417.70,250.62 418.70,250.62 418.70,249.19 419.70,249.19 419.70,249.38 420.70,249.38 420.70,249.28 421.70,249.28 421.70,247.58 422.70,247.58 422.70,246.03 423.70,246.03 423.70,246.41 424.70,246.41 424.70,246.95 425.70,246.95 425.70,245.41 426.70,245.41 426.70,245.43 427.70,245.43 427.70,244.80 428.70,244.80 428.70,242.97 429.70,242.97 429.70,241.88 430.70,241.88 430.70,242.59 431.70,242.59 431.70,239.13 432.70,239.13 432.70,239.68 433.70,239.68 433.70,238.17 434.70,238.17 434.70,238.52 435.70,238.52 435.70,237.17 436.70,237.17 436.70,238.28 437.70,238.28 437.70,233.85 438.70,233.85 438.70,232.28 439.70,232.28 439.70,234.38 440.70,234.38 440.70,234.58 441.70,234.58 441.70,234.03 442.70,234.03 442.70,229.33 443.70,229.33 443.70,230.10 444.70,230.10 444.70,230.98 445.70,230.98 445.70,232.31 446.70,232.31 446.70,233.50 447.70,233.50 447.70,236.24 448.70,236.24 448.70,236.85 449.70,236.85 449.70,239.82 450.70,239.82 450.70,240.87 451.70,240.87 451.70,242.34 452.70,242.34 452.70,244.18 453.70,244.18 453.70,246.34 454.70,246.34 454.70,248.71 455.70,248.71 455.70,249.58 456.70,249.58 456.70,251.17 457.70,251.17 457.70,250.02 458.70,250.02 458.70,250.56 459.70,250.56 459.70,251.74 460.70,251.74 460.70,252.70 461.70,252.70 461.70,253.55 462.70,253.55 462.70,254.08 463.70,254.08 463.70,253.99 464.70,253.99 464.70,253.64 465.70,253.64 465.70,253.52 466.70,253.52 466.70,252.49 467.70,252.49 467.70,250.14 468.70,250.14 468.70,251.27 469.70,251.27 469.70,252.27 470.70,252.27 470.70,251.48 471.70,251.48 471.70,254.76 472.70,254.76 472.70,255.08 473.70,255.08 473.70,254.96 474.70,254.96 474.70,255.15 475.70,255.15 475.70,255.29 476.70,255.29 476.70,255.94 477.70,255.94 477.70,255.96 478.70,255.96 478.70,256.21 479.70,256.21 479.70,255.85 480.70,255.85 480.70,257.25 481.70,257.25 481.70,257.18 482.70,257.18 482.70,256.66 483.70,256.66 483.70,257.07 484.70,257.07 484.70,257.23 485.70,257.23 485.70,256.35 486.70,256.35 486.70,256.78 487.70,256.78 487.70,256.21 488.70,256.21 488.70,255.96 489.70,255.96 489.70,256.13 490.70,256.13 490.70,256.08 491.70,256.08 491.70,256.42 492.70,256.42 492.70,257.28 493.70,257.28 493.70,256.82 494.70,256.82 494.70,256.40 495.70,256.40 495.70,256.81 496.70,256.81 496.70,256.72 497.70,256.72 497.70,256.23 498.70,256.23 498.70,256.97 499.70,256.97 499.70,256.40 500.70,256.40 500.70,255.54 501.70,255.54 501.70,256.58 502.70,256.58 502.70,256.57 503.70,256.57 503.70,256.74 504.70,256.74 504.70,255.88 505.70,255.88 505.70,256.26 506.70,256.26 506.70,256.09 507.70,256.09 507.70,256.90 508.70,256.90 508.70,256.83 509.70,256.83 509.70,256.81 510.70,256.81 510.70,257.77 511.40,257.77 511.40,259.90"/>
<rect x="509.90" y="255.50" width="2" height="4.40" fill="#000"/>
<rect x="403.5" y="178.5" width="107.90" height="81.40" fill="none" stroke="#000" stroke-width="1.55" stroke-linejoin="round"/>
<path d="M403.5 179.5V259.9" fill="none" stroke="#000" stroke-width="1.8"/>
<path d="M402.70 259.9H512.20" fill="none" stroke="#000" stroke-width="1.9"/>
<path d="M400.10 256.30H403.5M400.10 253.10H403.5M400.10 249.90H403.5M400.10 246.70H403.5M400.10 240.30H403.5M400.10 237.10H403.5M400.10 233.90H403.5M400.10 230.70H403.5M400.10 224.30H403.5M400.10 221.10H403.5M400.10 217.90H403.5M400.10 214.70H403.5M400.10 208.30H403.5M400.10 205.10H403.5M400.10 201.90H403.5M400.10 198.70H403.5M400.10 192.30H403.5M400.10 189.10H403.5M400.10 185.90H403.5M400.10 182.70H403.5" stroke="#000" stroke-width="1.25" fill="none"/>
<path d="M398.20 259.50H403.5M398.20 243.50H403.5M398.20 227.50H403.5M398.20 211.50H403.5M398.20 195.50H403.5M398.20 179.50H403.5" stroke="#000" stroke-width="1.5" fill="none"/>
<path d="M407.39 259.9V262.80M410.88 259.9V262.80M414.37 259.9V262.80M417.86 259.9V262.80M421.35 259.9V262.80M428.33 259.9V262.80M431.82 259.9V262.80M435.31 259.9V262.80M438.80 259.9V262.80M442.29 259.9V262.80M449.27 259.9V262.80M452.76 259.9V262.80M456.25 259.9V262.80M459.74 259.9V262.80M463.23 259.9V262.80M470.21 259.9V262.80M473.70 259.9V262.80M477.19 259.9V262.80M480.68 259.9V262.80M484.17 259.9V262.80M491.15 259.9V262.80M494.64 259.9V262.80M498.13 259.9V262.80M501.62 259.9V262.80M505.11 259.9V262.80" stroke="#000" stroke-width="1.4" fill="none"/>
<path d="M403.90 259.9V264.80M424.84 259.9V264.80M445.78 259.9V264.80M466.72 259.9V264.80M487.66 259.9V264.80M508.60 259.9V264.80" stroke="#000" stroke-width="1.6" fill="none"/>
<text transform="translate(396.20 256.90) rotate(-90)" text-anchor="middle" font-size="9.4" font-family="Liberation Sans, Arial, Helvetica, sans-serif" stroke="#000" stroke-width="0.45">0</text>
<text transform="translate(396.20 241.10) rotate(-90)" text-anchor="middle" font-size="9.4" font-family="Liberation Sans, Arial, Helvetica, sans-serif" stroke="#000" stroke-width="0.45">20</text>
<text transform="translate(396.20 226.50) rotate(-90)" text-anchor="middle" font-size="9.4" font-family="Liberation Sans, Arial, Helvetica, sans-serif" stroke="#000" stroke-width="0.45">40</text>
<text transform="translate(396.20 209.40) rotate(-90)" text-anchor="middle" font-size="9.4" font-family="Liberation Sans, Arial, Helvetica, sans-serif" stroke="#000" stroke-width="0.45">60</text>
<text transform="translate(396.20 194.30) rotate(-90)" text-anchor="middle" font-size="9.4" font-family="Liberation Sans, Arial, Helvetica, sans-serif" stroke="#000" stroke-width="0.45">80</text>
<text transform="translate(396.20 178.30) rotate(-90)" text-anchor="middle" font-size="9.4" font-family="Liberation Sans, Arial, Helvetica, sans-serif" stroke="#000" stroke-width="0.45">100</text>
<text transform="translate(383.80 219.20) rotate(-90)" text-anchor="middle" font-size="9.5" font-family="Liberation Sans, Arial, Helvetica, sans-serif" stroke="#000" stroke-width="0.45">Counts</text>
<text x="405.10" y="273.20" text-anchor="middle" font-size="9.3" font-family="Liberation Sans, Arial, Helvetica, sans-serif" stroke="#000" stroke-width="0.45">0</text>
<text x="509.50" y="273.20" text-anchor="middle" font-size="9.3" font-family="Liberation Sans, Arial, Helvetica, sans-serif" stroke="#000" stroke-width="0.45">1000</text>
<text x="455.95" y="284.70" text-anchor="middle" font-size="9.3" font-family="Liberation Sans, Arial, Helvetica, sans-serif" stroke="#000" stroke-width="0.45">FL2-Height</text>
<path d="M403.5 220.4H438.8M438.8 211.1V230.4" stroke="#000" stroke-width="1.2" fill="none"/>
<path d="M403.8 211.1V230" stroke="#000" stroke-width="2.2" fill="none"/>
<text transform="translate(421.80 232.20) scale(1 1.04)" font-size="9.8" letter-spacing="0.7" font-family="Liberation Sans, Arial, Helvetica, sans-serif" stroke="#000" stroke-width="0.6">M1</text>
<text x="412.40" y="200.5" font-size="12.2" textLength="26.3" lengthAdjust="spacingAndGlyphs" font-family="Liberation Sans, Arial, Helvetica, sans-serif" stroke="#000" stroke-width="0.4">48%</text>
<polygon fill="#000" points="110.60,393.50 110.80,389.36 111.80,389.36 111.80,388.48 112.80,388.48 112.80,388.03 113.80,388.03 113.80,386.78 114.80,386.78 114.80,388.68 115.80,388.68 115.80,389.96 116.80,389.96 116.80,390.31 117.80,390.31 117.80,391.33 118.80,391.33 118.80,390.97 119.80,390.97 119.80,389.90 120.80,389.90 120.80,390.67 121.80,390.67 121.80,391.19 122.80,391.19 122.80,391.56 123.80,391.56 123.80,391.61 124.80,391.61 124.80,390.77 125.80,390.77 125.80,389.72 126.80,389.72 126.80,390.05 127.80,390.05 127.80,390.27 128.80,390.27 128.80,389.25 129.80,389.25 129.80,390.41 130.80,390.41 130.80,390.91 131.80,390.91 131.80,390.42 132.80,390.42 132.80,390.23 133.80,390.23 133.80,391.03 134.80,391.03 134.80,391.40 135.80,391.40 135.80,390.72 136.80,390.72 136.80,390.02 137.80,390.02 137.80,390.21 138.80,390.21 138.80,390.36 139.80,390.36 139.80,391.10 140.80,391.10 140.80,390.64 141.80,390.64 141.80,390.68 142.80,390.68 142.80,390.63 143.80,390.63 143.80,390.70 144.80,390.70 144.80,389.88 145.80,389.88 145.80,389.34 146.80,389.34 146.80,389.76 147.80,389.76 147.80,388.64 148.80,388.64 148.80,388.53 149.80,388.53 149.80,386.95 150.80,386.95 150.80,385.23 151.80,385.23 151.80,382.08 152.80,382.08 152.80,380.44 153.80,380.44 153.80,377.85 154.80,377.85 154.80,375.18 155.80,375.18 155.80,374.62 156.80,374.62 156.80,371.07 157.80,371.07 157.80,369.08 158.80,369.08 158.80,365.36 159.80,365.36 159.80,364.24 160.80,364.24 160.80,367.98 161.80,367.98 161.80,369.22 162.80,369.22 162.80,367.24 163.80,367.24 163.80,366.49 164.80,366.49 164.80,363.37 165.80,363.37 165.80,362.85 166.80,362.85 166.80,362.15 167.80,362.15 167.80,359.43 168.80,359.43 168.80,363.55 169.80,363.55 169.80,364.87 170.80,364.87 170.80,366.09 171.80,366.09 171.80,367.43 172.80,367.43 172.80,370.98 173.80,370.98 173.80,373.18 174.80,373.18 174.80,376.42 175.80,376.42 175.80,378.01 176.80,378.01 176.80,378.19 177.80,378.19 177.80,381.44 178.80,381.44 178.80,380.80 179.80,380.80 179.80,384.03 180.80,384.03 180.80,385.40 181.80,385.40 181.80,386.67 182.80,386.67 182.80,386.62 183.80,386.62 183.80,388.35 184.80,388.35 184.80,389.76 185.80,389.76 185.80,388.59 186.80,388.59 186.80,388.28 187.80,388.28 187.80,388.51 188.80,388.51 188.80,386.89 189.80,386.89 189.80,387.61 190.80,387.61 190.80,387.57 191.80,387.57 191.80,386.81 192.80,386.81 192.80,387.50 193.80,387.50 193.80,387.36 194.80,387.36 194.80,389.61 195.80,389.61 195.80,389.77 196.80,389.77 196.80,391.72 197.80,391.72 197.80,389.75 198.80,389.75 198.80,389.81 199.80,389.81 199.80,389.03 200.80,389.03 200.80,388.00 201.80,388.00 201.80,389.00 202.80,389.00 202.80,389.52 203.80,389.52 203.80,389.86 204.80,389.86 204.80,390.20 205.80,390.20 205.80,390.21 206.80,390.21 206.80,389.43 207.80,389.43 207.80,389.55 208.80,389.55 208.80,389.58 209.80,389.58 209.80,389.75 210.80,389.75 210.80,389.16 211.80,389.16 211.80,389.22 212.80,389.22 212.80,389.64 213.80,389.64 213.80,389.31 214.80,389.31 214.80,389.70 215.80,389.70 215.80,390.46 216.80,390.46 216.80,389.15 217.80,389.15 217.80,389.29 218.20,389.29 218.20,393.50"/>
<rect x="216.70" y="351.50" width="2" height="42.00" fill="#000"/>
<rect x="110.6" y="312.5" width="107.60" height="81.00" fill="none" stroke="#000" stroke-width="1.55" stroke-linejoin="round"/>
<path d="M110.6 313.5V393.5" fill="none" stroke="#000" stroke-width="1.8"/>
<path d="M109.80 393.5H219.00" fill="none" stroke="#000" stroke-width="1.9"/>
<path d="M107.20 389.92H110.6M107.20 386.73H110.6M107.20 383.55H110.6M107.20 380.36H110.6M107.20 374.00H110.6M107.20 370.81H110.6M107.20 367.63H110.6M107.20 364.44H110.6M107.20 358.08H110.6M107.20 354.89H110.6M107.20 351.71H110.6M107.20 348.52H110.6M107.20 342.16H110.6M107.20 338.97H110.6M107.20 335.79H110.6M107.20 332.60H110.6M107.20 326.24H110.6M107.20 323.05H110.6M107.20 319.87H110.6M107.20 316.68H110.6" stroke="#000" stroke-width="1.25" fill="none"/>
<path d="M105.30 393.10H110.6M105.30 377.18H110.6M105.30 361.26H110.6M105.30 345.34H110.6M105.30 329.42H110.6M105.30 313.50H110.6" stroke="#000" stroke-width="1.5" fill="none"/>
<path d="M114.48 393.5V396.40M117.96 393.5V396.40M121.44 393.5V396.40M124.92 393.5V396.40M128.40 393.5V396.40M135.36 393.5V396.40M138.84 393.5V396.40M142.32 393.5V396.40M145.80 393.5V396.40M149.28 393.5V396.40M156.24 393.5V396.40M159.72 393.5V396.40M163.20 393.5V396.40M166.68 393.5V396.40M170.16 393.5V396.40M177.12 393.5V396.40M180.60 393.5V396.40M184.08 393.5V396.40M187.56 393.5V396.40M191.04 393.5V396.40M198.00 393.5V396.40M201.48 393.5V396.40M204.96 393.5V396.40M208.44 393.5V396.40M211.92 393.5V396.40" stroke="#000" stroke-width="1.4" fill="none"/>
<path d="M111.00 393.5V398.40M131.88 393.5V398.40M152.76 393.5V398.40M173.64 393.5V398.40M194.52 393.5V398.40M215.40 393.5V398.40" stroke="#000" stroke-width="1.6" fill="none"/>
<text transform="translate(103.30 390.90) rotate(-90)" text-anchor="middle" font-size="9.4" font-family="Liberation Sans, Arial, Helvetica, sans-serif" stroke="#000" stroke-width="0.45">0</text>
<text transform="translate(103.30 375.10) rotate(-90)" text-anchor="middle" font-size="9.4" font-family="Liberation Sans, Arial, Helvetica, sans-serif" stroke="#000" stroke-width="0.45">20</text>
<text transform="translate(103.30 360.50) rotate(-90)" text-anchor="middle" font-size="9.4" font-family="Liberation Sans, Arial, Helvetica, sans-serif" stroke="#000" stroke-width="0.45">40</text>
<text transform="translate(103.30 343.40) rotate(-90)" text-anchor="middle" font-size="9.4" font-family="Liberation Sans, Arial, Helvetica, sans-serif" stroke="#000" stroke-width="0.45">60</text>
<text transform="translate(103.30 328.30) rotate(-90)" text-anchor="middle" font-size="9.4" font-family="Liberation Sans, Arial, Helvetica, sans-serif" stroke="#000" stroke-width="0.45">80</text>
<text transform="translate(103.30 312.30) rotate(-90)" text-anchor="middle" font-size="9.4" font-family="Liberation Sans, Arial, Helvetica, sans-serif" stroke="#000" stroke-width="0.45">100</text>
<text transform="translate(90.90 353.20) rotate(-90)" text-anchor="middle" font-size="9.5" font-family="Liberation Sans, Arial, Helvetica, sans-serif" stroke="#000" stroke-width="0.45">Counts</text>
<text x="112.20" y="406.80" text-anchor="middle" font-size="9.3" font-family="Liberation Sans, Arial, Helvetica, sans-serif" stroke="#000" stroke-width="0.45">0</text>
<text x="216.30" y="406.80" text-anchor="middle" font-size="9.3" font-family="Liberation Sans, Arial, Helvetica, sans-serif" stroke="#000" stroke-width="0.45">1000</text>
<text x="162.90" y="418.30" text-anchor="middle" font-size="9.3" font-family="Liberation Sans, Arial, Helvetica, sans-serif" stroke="#000" stroke-width="0.45">FL2-Height</text>
<path d="M110.6 354.2H145.6M145.6 345.1V364.0" stroke="#000" stroke-width="1.2" fill="none"/>
<path d="M110.89999999999999 345.1V363.6" stroke="#000" stroke-width="2.2" fill="none"/>
<text transform="translate(128.30 365.90) scale(1 1.04)" font-size="9.8" letter-spacing="0.7" font-family="Liberation Sans, Arial, Helvetica, sans-serif" stroke="#000" stroke-width="0.6">M1</text>
<text x="118.90" y="334.2" font-size="12.2" textLength="18.0" lengthAdjust="spacingAndGlyphs" font-family="Liberation Sans, Arial, Helvetica, sans-serif" stroke="#000" stroke-width="0.4">3%</text>
<polygon fill="#000" points="258.50,393.20 258.70,390.43 259.70,390.43 259.70,388.02 260.70,388.02 260.70,385.24 261.70,385.24 261.70,383.51 262.70,383.51 262.70,380.25 263.70,380.25 263.70,384.45 264.70,384.45 264.70,386.64 265.70,386.64 265.70,388.19 266.70,388.19 266.70,389.68 267.70,389.68 267.70,390.64 268.70,390.64 268.70,389.35 269.70,389.35 269.70,389.42 270.70,389.42 270.70,389.58 271.70,389.58 271.70,388.71 272.70,388.71 272.70,387.85 273.70,387.85 273.70,386.50 274.70,386.50 274.70,386.30 275.70,386.30 275.70,385.29 276.70,385.29 276.70,386.04 277.70,386.04 277.70,384.19 278.70,384.19 278.70,381.47 279.70,381.47 279.70,377.67 280.70,377.67 280.70,376.46 281.70,376.46 281.70,376.15 282.70,376.15 282.70,373.84 283.70,373.84 283.70,374.89 284.70,374.89 284.70,374.42 285.70,374.42 285.70,373.34 286.70,373.34 286.70,374.88 287.70,374.88 287.70,374.24 288.70,374.24 288.70,375.47 289.70,375.47 289.70,374.23 290.70,374.23 290.70,373.56 291.70,373.56 291.70,372.68 292.70,372.68 292.70,373.60 293.70,373.60 293.70,374.00 294.70,374.00 294.70,377.66 295.70,377.66 295.70,379.31 296.70,379.31 296.70,379.36 297.70,379.36 297.70,381.44 298.70,381.44 298.70,379.78 299.70,379.78 299.70,376.98 300.70,376.98 300.70,375.13 301.70,375.13 301.70,371.07 302.70,371.07 302.70,370.02 303.70,370.02 303.70,365.23 304.70,365.23 304.70,365.28 305.70,365.28 305.70,362.70 306.70,362.70 306.70,361.51 307.70,361.51 307.70,361.95 308.70,361.95 308.70,360.87 309.70,360.87 309.70,362.07 310.70,362.07 310.70,363.60 311.70,363.60 311.70,362.61 312.70,362.61 312.70,360.86 313.70,360.86 313.70,362.37 314.70,362.37 314.70,363.04 315.70,363.04 315.70,363.70 316.70,363.70 316.70,366.70 317.70,366.70 317.70,372.87 318.70,372.87 318.70,373.39 319.70,373.39 319.70,376.66 320.70,376.66 320.70,384.29 321.70,384.29 321.70,385.83 322.70,385.83 322.70,386.72 323.70,386.72 323.70,387.90 324.70,387.90 324.70,388.37 325.70,388.37 325.70,389.20 326.70,389.20 326.70,390.11 327.70,390.11 327.70,389.84 328.70,389.84 328.70,389.23 329.70,389.23 329.70,390.26 330.70,390.26 330.70,390.58 331.70,390.58 331.70,390.09 332.70,390.09 332.70,391.08 333.70,391.08 333.70,390.40 334.70,390.40 334.70,390.28 335.70,390.28 335.70,389.69 336.70,389.69 336.70,390.19 337.70,390.19 337.70,390.47 338.70,390.47 338.70,390.27 339.70,390.27 339.70,390.00 340.70,390.00 340.70,390.27 341.70,390.27 341.70,389.96 342.70,389.96 342.70,389.40 343.70,389.40 343.70,388.94 344.70,388.94 344.70,388.20 345.70,388.20 345.70,389.07 346.70,389.07 346.70,389.25 347.70,389.25 347.70,391.10 348.70,391.10 348.70,389.34 349.70,389.34 349.70,390.34 350.70,390.34 350.70,390.22 351.70,390.22 351.70,389.86 352.70,389.86 352.70,390.84 353.70,390.84 353.70,390.13 354.70,390.13 354.70,390.17 355.70,390.17 355.70,391.24 356.70,391.24 356.70,390.39 357.70,390.39 357.70,389.58 358.70,389.58 358.70,391.08 359.70,391.08 359.70,390.06 360.70,390.06 360.70,390.06 361.70,390.06 361.70,389.91 362.70,389.91 362.70,389.89 363.70,389.89 363.70,389.39 364.70,389.39 364.70,390.11 365.70,390.11 365.70,393.20"/>
<rect x="364.20" y="379.50" width="2" height="13.70" fill="#000"/>
<rect x="258.5" y="312.1" width="107.20" height="81.10" fill="none" stroke="#000" stroke-width="1.55" stroke-linejoin="round"/>
<path d="M258.5 313.1V393.2" fill="none" stroke="#000" stroke-width="1.8"/>
<path d="M257.70 393.2H366.50" fill="none" stroke="#000" stroke-width="1.9"/>
<path d="M255.10 389.61H258.5M255.10 386.42H258.5M255.10 383.24H258.5M255.10 380.05H258.5M255.10 373.67H258.5M255.10 370.48H258.5M255.10 367.30H258.5M255.10 364.11H258.5M255.10 357.73H258.5M255.10 354.54H258.5M255.10 351.36H258.5M255.10 348.17H258.5M255.10 341.79H258.5M255.10 338.60H258.5M255.10 335.42H258.5M255.10 332.23H258.5M255.10 325.85H258.5M255.10 322.66H258.5M255.10 319.48H258.5M255.10 316.29H258.5" stroke="#000" stroke-width="1.25" fill="none"/>
<path d="M253.20 392.80H258.5M253.20 376.86H258.5M253.20 360.92H258.5M253.20 344.98H258.5M253.20 329.04H258.5M253.20 313.10H258.5" stroke="#000" stroke-width="1.5" fill="none"/>
<path d="M262.37 393.2V396.10M265.83 393.2V396.10M269.30 393.2V396.10M272.77 393.2V396.10M276.23 393.2V396.10M283.17 393.2V396.10M286.63 393.2V396.10M290.10 393.2V396.10M293.57 393.2V396.10M297.03 393.2V396.10M303.97 393.2V396.10M307.43 393.2V396.10M310.90 393.2V396.10M314.37 393.2V396.10M317.83 393.2V396.10M324.77 393.2V396.10M328.23 393.2V396.10M331.70 393.2V396.10M335.17 393.2V396.10M338.63 393.2V396.10M345.57 393.2V396.10M349.03 393.2V396.10M352.50 393.2V396.10M355.97 393.2V396.10M359.43 393.2V396.10" stroke="#000" stroke-width="1.4" fill="none"/>
<path d="M258.90 393.2V398.10M279.70 393.2V398.10M300.50 393.2V398.10M321.30 393.2V398.10M342.10 393.2V398.10M362.90 393.2V398.10" stroke="#000" stroke-width="1.6" fill="none"/>
<text transform="translate(251.20 390.50) rotate(-90)" text-anchor="middle" font-size="9.4" font-family="Liberation Sans, Arial, Helvetica, sans-serif" stroke="#000" stroke-width="0.45">0</text>
<text transform="translate(251.20 374.70) rotate(-90)" text-anchor="middle" font-size="9.4" font-family="Liberation Sans, Arial, Helvetica, sans-serif" stroke="#000" stroke-width="0.45">20</text>
<text transform="translate(251.20 360.10) rotate(-90)" text-anchor="middle" font-size="9.4" font-family="Liberation Sans, Arial, Helvetica, sans-serif" stroke="#000" stroke-width="0.45">40</text>
<text transform="translate(251.20 343.00) rotate(-90)" text-anchor="middle" font-size="9.4" font-family="Liberation Sans, Arial, Helvetica, sans-serif" stroke="#000" stroke-width="0.45">60</text>
<text transform="translate(251.20 327.90) rotate(-90)" text-anchor="middle" font-size="9.4" font-family="Liberation Sans, Arial, Helvetica, sans-serif" stroke="#000" stroke-width="0.45">80</text>
<text transform="translate(251.20 311.90) rotate(-90)" text-anchor="middle" font-size="9.4" font-family="Liberation Sans, Arial, Helvetica, sans-serif" stroke="#000" stroke-width="0.45">100</text>
<text transform="translate(238.80 352.80) rotate(-90)" text-anchor="middle" font-size="9.5" font-family="Liberation Sans, Arial, Helvetica, sans-serif" stroke="#000" stroke-width="0.45">Counts</text>
<text x="260.10" y="406.50" text-anchor="middle" font-size="9.3" font-family="Liberation Sans, Arial, Helvetica, sans-serif" stroke="#000" stroke-width="0.45">0</text>
<text x="363.80" y="406.50" text-anchor="middle" font-size="9.3" font-family="Liberation Sans, Arial, Helvetica, sans-serif" stroke="#000" stroke-width="0.45">1000</text>
<text x="310.60" y="418.00" text-anchor="middle" font-size="9.3" font-family="Liberation Sans, Arial, Helvetica, sans-serif" stroke="#000" stroke-width="0.45">FL2-Height</text>
<path d="M258.5 355.2H299.0M299.0 345.8V364.59999999999997" stroke="#000" stroke-width="1.2" fill="none"/>
<path d="M258.8 345.8V364.2" stroke="#000" stroke-width="2.2" fill="none"/>
<text transform="translate(278.30 366.90) scale(1 1.04)" font-size="9.8" letter-spacing="0.7" font-family="Liberation Sans, Arial, Helvetica, sans-serif" stroke="#000" stroke-width="0.6">M1</text>
<text x="268.10" y="333.7" font-size="12.2" textLength="26.3" lengthAdjust="spacingAndGlyphs" font-family="Liberation Sans, Arial, Helvetica, sans-serif" stroke="#000" stroke-width="0.4">37%</text>
<polygon fill="#000" points="403.40,393.90 403.60,389.43 404.60,389.43 404.60,388.68 405.60,388.68 405.60,385.09 406.60,385.09 406.60,383.74 407.60,383.74 407.60,384.21 408.60,384.21 408.60,384.44 409.60,384.44 409.60,386.43 410.60,386.43 410.60,388.02 411.60,388.02 411.60,389.84 412.60,389.84 412.60,390.26 413.60,390.26 413.60,388.88 414.60,388.88 414.60,387.36 415.60,387.36 415.60,386.66 416.60,386.66 416.60,385.65 417.60,385.65 417.60,385.04 418.60,385.04 418.60,382.97 419.60,382.97 419.60,383.08 420.60,383.08 420.60,381.99 421.60,381.99 421.60,379.09 422.60,379.09 422.60,379.44 423.60,379.44 423.60,379.88 424.60,379.88 424.60,380.29 425.60,380.29 425.60,380.10 426.60,380.10 426.60,379.01 427.60,379.01 427.60,378.65 428.60,378.65 428.60,379.90 429.60,379.90 429.60,378.49 430.60,378.49 430.60,378.05 431.60,378.05 431.60,379.05 432.60,379.05 432.60,378.22 433.60,378.22 433.60,379.37 434.60,379.37 434.60,380.13 435.60,380.13 435.60,378.24 436.60,378.24 436.60,376.47 437.60,376.47 437.60,377.39 438.60,377.39 438.60,376.21 439.60,376.21 439.60,378.23 440.60,378.23 440.60,376.19 441.60,376.19 441.60,378.75 442.60,378.75 442.60,377.65 443.60,377.65 443.60,379.09 444.60,379.09 444.60,378.09 445.60,378.09 445.60,375.88 446.60,375.88 446.60,378.66 447.60,378.66 447.60,376.39 448.60,376.39 448.60,373.58 449.60,373.58 449.60,372.29 450.60,372.29 450.60,371.55 451.60,371.55 451.60,367.33 452.60,367.33 452.60,367.79 453.60,367.79 453.60,369.50 454.60,369.50 454.60,366.78 455.60,366.78 455.60,368.96 456.60,368.96 456.60,365.82 457.60,365.82 457.60,367.77 458.60,367.77 458.60,368.34 459.60,368.34 459.60,367.87 460.60,367.87 460.60,370.25 461.60,370.25 461.60,374.05 462.60,374.05 462.60,376.80 463.60,376.80 463.60,375.99 464.60,375.99 464.60,377.74 465.60,377.74 465.60,381.34 466.60,381.34 466.60,381.93 467.60,381.93 467.60,382.90 468.60,382.90 468.60,383.38 469.60,383.38 469.60,384.33 470.60,384.33 470.60,381.87 471.60,381.87 471.60,379.33 472.60,379.33 472.60,381.02 473.60,381.02 473.60,382.83 474.60,382.83 474.60,387.10 475.60,387.10 475.60,387.55 476.60,387.55 476.60,388.89 477.60,388.89 477.60,387.96 478.60,387.96 478.60,389.69 479.60,389.69 479.60,389.97 480.60,389.97 480.60,389.88 481.60,389.88 481.60,389.38 482.60,389.38 482.60,390.04 483.60,390.04 483.60,389.35 484.60,389.35 484.60,390.25 485.60,390.25 485.60,389.95 486.60,389.95 486.60,390.32 487.60,390.32 487.60,390.05 488.60,390.05 488.60,390.47 489.60,390.47 489.60,391.15 490.60,391.15 490.60,389.82 491.60,389.82 491.60,389.82 492.60,389.82 492.60,390.34 493.60,390.34 493.60,390.08 494.60,390.08 494.60,389.53 495.60,389.53 495.60,390.50 496.60,390.50 496.60,390.34 497.60,390.34 497.60,389.91 498.60,389.91 498.60,389.77 499.60,389.77 499.60,390.24 500.60,390.24 500.60,391.44 501.60,391.44 501.60,389.91 502.60,389.91 502.60,389.92 503.60,389.92 503.60,390.11 504.60,390.11 504.60,390.36 505.60,390.36 505.60,390.13 506.60,390.13 506.60,390.46 507.60,390.46 507.60,390.93 508.60,390.93 508.60,390.94 509.60,390.94 509.60,390.86 510.60,390.86 510.60,390.85 511.00,390.85 511.00,393.90"/>
<rect x="509.50" y="372.50" width="2" height="21.40" fill="#000"/>
<rect x="403.4" y="311.9" width="107.60" height="82.00" fill="none" stroke="#000" stroke-width="1.55" stroke-linejoin="round"/>
<path d="M403.4 312.9V393.9" fill="none" stroke="#000" stroke-width="1.8"/>
<path d="M402.60 393.9H511.80" fill="none" stroke="#000" stroke-width="1.9"/>
<path d="M400.00 390.28H403.4M400.00 387.05H403.4M400.00 383.83H403.4M400.00 380.60H403.4M400.00 374.16H403.4M400.00 370.93H403.4M400.00 367.71H403.4M400.00 364.48H403.4M400.00 358.04H403.4M400.00 354.81H403.4M400.00 351.59H403.4M400.00 348.36H403.4M400.00 341.92H403.4M400.00 338.69H403.4M400.00 335.47H403.4M400.00 332.24H403.4M400.00 325.80H403.4M400.00 322.57H403.4M400.00 319.35H403.4M400.00 316.12H403.4" stroke="#000" stroke-width="1.25" fill="none"/>
<path d="M398.10 393.50H403.4M398.10 377.38H403.4M398.10 361.26H403.4M398.10 345.14H403.4M398.10 329.02H403.4M398.10 312.90H403.4" stroke="#000" stroke-width="1.5" fill="none"/>
<path d="M407.28 393.9V396.80M410.76 393.9V396.80M414.24 393.9V396.80M417.72 393.9V396.80M421.20 393.9V396.80M428.16 393.9V396.80M431.64 393.9V396.80M435.12 393.9V396.80M438.60 393.9V396.80M442.08 393.9V396.80M449.04 393.9V396.80M452.52 393.9V396.80M456.00 393.9V396.80M459.48 393.9V396.80M462.96 393.9V396.80M469.92 393.9V396.80M473.40 393.9V396.80M476.88 393.9V396.80M480.36 393.9V396.80M483.84 393.9V396.80M490.80 393.9V396.80M494.28 393.9V396.80M497.76 393.9V396.80M501.24 393.9V396.80M504.72 393.9V396.80" stroke="#000" stroke-width="1.4" fill="none"/>
<path d="M403.80 393.9V398.80M424.68 393.9V398.80M445.56 393.9V398.80M466.44 393.9V398.80M487.32 393.9V398.80M508.20 393.9V398.80" stroke="#000" stroke-width="1.6" fill="none"/>
<text transform="translate(396.10 390.30) rotate(-90)" text-anchor="middle" font-size="9.4" font-family="Liberation Sans, Arial, Helvetica, sans-serif" stroke="#000" stroke-width="0.45">0</text>
<text transform="translate(396.10 374.50) rotate(-90)" text-anchor="middle" font-size="9.4" font-family="Liberation Sans, Arial, Helvetica, sans-serif" stroke="#000" stroke-width="0.45">20</text>
<text transform="translate(396.10 359.90) rotate(-90)" text-anchor="middle" font-size="9.4" font-family="Liberation Sans, Arial, Helvetica, sans-serif" stroke="#000" stroke-width="0.45">40</text>
<text transform="translate(396.10 342.80) rotate(-90)" text-anchor="middle" font-size="9.4" font-family="Liberation Sans, Arial, Helvetica, sans-serif" stroke="#000" stroke-width="0.45">60</text>
<text transform="translate(396.10 327.70) rotate(-90)" text-anchor="middle" font-size="9.4" font-family="Liberation Sans, Arial, Helvetica, sans-serif" stroke="#000" stroke-width="0.45">80</text>
<text transform="translate(396.10 311.70) rotate(-90)" text-anchor="middle" font-size="9.4" font-family="Liberation Sans, Arial, Helvetica, sans-serif" stroke="#000" stroke-width="0.45">100</text>
<text transform="translate(383.70 352.60) rotate(-90)" text-anchor="middle" font-size="9.5" font-family="Liberation Sans, Arial, Helvetica, sans-serif" stroke="#000" stroke-width="0.45">Counts</text>
<text x="405.00" y="407.20" text-anchor="middle" font-size="9.3" font-family="Liberation Sans, Arial, Helvetica, sans-serif" stroke="#000" stroke-width="0.45">0</text>
<text x="509.10" y="407.20" text-anchor="middle" font-size="9.3" font-family="Liberation Sans, Arial, Helvetica, sans-serif" stroke="#000" stroke-width="0.45">1000</text>
<text x="455.70" y="418.70" text-anchor="middle" font-size="9.3" font-family="Liberation Sans, Arial, Helvetica, sans-serif" stroke="#000" stroke-width="0.45">FL2-Height</text>
<path d="M403.4 356.2H443.8M443.8 347.2V365.59999999999997" stroke="#000" stroke-width="1.2" fill="none"/>
<path d="M403.7 347.2V365.2" stroke="#000" stroke-width="2.2" fill="none"/>
<text transform="translate(423.60 368.10) scale(1 1.04)" font-size="9.8" letter-spacing="0.7" font-family="Liberation Sans, Arial, Helvetica, sans-serif" stroke="#000" stroke-width="0.6">M1</text>
<text x="410.60" y="334.2" font-size="12.2" textLength="26.3" lengthAdjust="spacingAndGlyphs" font-family="Liberation Sans, Arial, Helvetica, sans-serif" stroke="#000" stroke-width="0.4">37%</text>
<rect x="161.9" y="7.2" width="3.9" height="2.6" rx="0.5" fill="#000"/>
<text x="279.6" y="11.3" font-size="13" font-weight="bold" font-family="Liberation Sans, Arial, Helvetica, sans-serif" stroke="#000" stroke-width="0.5">+</text>
<text x="296.2" y="10.7" font-size="12.7" textLength="22" lengthAdjust="spacingAndGlyphs" font-weight="bold" font-family="Liberation Sans, Arial, Helvetica, sans-serif" stroke="#000" stroke-width="0.5">BIS</text>
<text x="425.2" y="10.9" font-size="13" font-weight="bold" font-family="Liberation Sans, Arial, Helvetica, sans-serif" stroke="#000" stroke-width="0.5">+</text>
<text x="438.6" y="10.3" font-size="12.7" textLength="28" lengthAdjust="spacingAndGlyphs" font-weight="bold" font-family="Liberation Sans, Arial, Helvetica, sans-serif" stroke="#000" stroke-width="0.5">CHX</text>
<text x="2.6" y="95.8" font-size="11" font-weight="bold" font-family="Liberation Sans, Arial, Helvetica, sans-serif" stroke="#000" stroke-width="0.5">+</text>
<text x="12.5" y="94.9" font-size="11.1" font-weight="bold" font-family="Liberation Sans, Arial, Helvetica, sans-serif" stroke="#000" stroke-width="0.5">Medium</text>
<text x="-0.8" y="227.6" font-size="11" font-weight="bold" font-family="Liberation Sans, Arial, Helvetica, sans-serif" stroke="#000" stroke-width="0.5">+</text>
<text x="10.2" y="227.1" font-size="11.1" font-weight="bold" font-family="Liberation Sans, Arial, Helvetica, sans-serif" stroke="#000" stroke-width="0.5">Anti-CD95</text>
<text x="2.6" y="361.4" font-size="11" font-weight="bold" font-family="Liberation Sans, Arial, Helvetica, sans-serif" stroke="#000" stroke-width="0.5">+</text>
<text x="12.7" y="359.8" font-size="11.1" font-weight="bold" font-family="Liberation Sans, Arial, Helvetica, sans-serif" stroke="#000" stroke-width="0.5">Trail</text>
<text x="268.5" y="462.9" font-size="11.7" textLength="70" lengthAdjust="spacingAndGlyphs" font-weight="bold" font-family="Liberation Sans, Arial, Helvetica, sans-serif" stroke="#000" stroke-width="0.5">DNA Content</text>
</svg>
</body></html>
